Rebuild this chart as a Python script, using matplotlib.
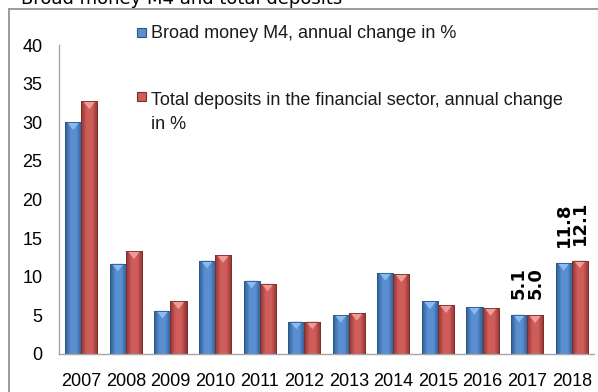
import matplotlib
matplotlib.use("Agg")
import matplotlib.pyplot as plt
import numpy as np
from matplotlib import font_manager
from matplotlib.colors import LinearSegmentedColormap
from matplotlib.patches import Rectangle, Polygon

years = ["2007", "2008", "2009", "2010", "2011", "2012",
         "2013", "2014", "2015", "2016", "2017", "2018"]
broad_money = [30.0, 11.7, 5.6, 12.1, 9.5, 4.2, 5.05, 10.5, 6.8, 6.1, 5.1, 11.8]
deposits = [32.7, 13.3, 6.8, 12.8, 9.1, 4.2, 5.3, 10.3, 6.3, 5.95, 5.0, 12.1]
labelled_years = ["2017", "2018"]

series_names = ["Broad money M4, annual change in %",
                "Total deposits in the financial sector, annual change\nin %"]
title = "Broad money M4 and total deposits"

available = {f.name for f in font_manager.fontManager.ttflist}
narrow = "Liberation Sans Narrow" if "Liberation Sans Narrow" in available else "Liberation Sans"
text_size = 15.5 if narrow.endswith("Narrow") else 13

W, H = 598, 392
fig = plt.figure(figsize=(W / 100, H / 100), dpi=100)

# chart frame (runs off the right and bottom edges)
fig.patches.append(Rectangle((8.5 / W, -0.1), 1.2, (H - 9.5) / H + 0.1,
                             transform=fig.transFigure, fill=False,
                             edgecolor="#9a9a9a", linewidth=1.4, zorder=0))
fig.text(21 / W, (H - 4) / H, title, fontsize=13, family="DejaVu Sans",
         va="baseline", ha="left", color="black")

ax = fig.add_axes([59 / W, 38 / H, 535 / W, 309 / H])
ax.set_ylim(0, 40)
ax.set_xlim(-0.5, len(years) - 0.5)
ax.set_yticks(np.arange(0, 41, 5))
x = np.arange(len(years))
ax.set_xticks(x)
ax.set_xticklabels(years)
ax.tick_params(length=0, labelsize=text_size)
ax.tick_params(axis="y", pad=12)
ax.tick_params(axis="x", pad=13.5)
for lab in ax.get_xticklabels() + ax.get_yticklabels():
    lab.set_family(narrow)
for side in ["top", "right"]:
    ax.spines[side].set_visible(False)
for side in ["left", "bottom"]:
    ax.spines[side].set_color("#a6a6a6")
    ax.spines[side].set_linewidth(1.0)
ax.patch.set_alpha(0)

bw = 0.36
styles = [
    dict(dark="#2f5d94", mid="#5a8fd2", tri="#8fc0f5", edge="#2c5580"),
    dict(dark="#8f3331", mid="#cf5d5a", tri="#f2a3a1", edge="#7d2d2b"),
]

containers = []
for i, (vals, st) in enumerate(zip([broad_money, deposits], styles)):
    bars = ax.bar(x + (i - 0.5) * bw, vals, width=bw, color=st["mid"],
                  edgecolor=st["edge"], linewidth=0.6, zorder=2)
    cmap = LinearSegmentedColormap.from_list(
        "g%d" % i, [st["dark"], st["mid"], st["mid"], st["dark"]])
    grad = np.linspace(0, 1, 64).reshape(1, -1)
    for b in bars:
        bx, by, bwid, bh = b.get_x(), b.get_y(), b.get_width(), b.get_height()
        im = ax.imshow(grad, cmap=cmap, aspect="auto", zorder=2.5,
                       extent=(bx, bx + bwid, by, by + bh), origin="lower")
        im.set_clip_path(b)
        th = min(1.0, bh * 0.5)
        ax.add_patch(Polygon([(bx + 0.12 * bwid, by + bh), (bx + 0.88 * bwid, by + bh),
                              (bx + 0.5 * bwid, by + bh - th)], closed=True,
                             facecolor=st["tri"], edgecolor="none", alpha=0.9, zorder=3))
        ax.add_patch(Rectangle((bx, by), bwid, bh, fill=False,
                               edgecolor=st["edge"], linewidth=0.6, zorder=3.5))
    containers.append(bars)

ax.set_xlim(-0.5, len(years) - 0.5)
ax.set_ylim(0, 40)

# value labels for the latest years
for bars, vals in zip(containers, [broad_money, deposits]):
    for b, v, yr in zip(bars, vals, years):
        if yr in labelled_years:
            ax.annotate(f"{v:.1f}", (b.get_x() + b.get_width() / 2, b.get_height()),
                        xytext=(0, 16), textcoords="offset pixels",
                        rotation=90, ha="center", va="bottom",
                        fontsize=13, fontweight="bold", family="DejaVu Sans",
                        color="black", zorder=5)

# legend entries: (marker centre, text top) in pixels from the top
legend_rows = [(32, 25.5, series_names[0]), (96, 92, series_names[1])]
for (ym, yt, name), st in zip(legend_rows, styles):
    fig.patches.append(Rectangle((137 / W, (H - ym - 4.5) / H), 9 / W, 9 / H,
                                 transform=fig.transFigure, facecolor=st["mid"],
                                 edgecolor=st["edge"], linewidth=0.8))
    fig.text(151 / W, (H - yt) / H, name,
             fontsize=text_size, family=narrow,
             va="top", ha="left", color="#1a1a1a",
             linespacing=1.55)

fig.savefig("out.png", dpi=100)
